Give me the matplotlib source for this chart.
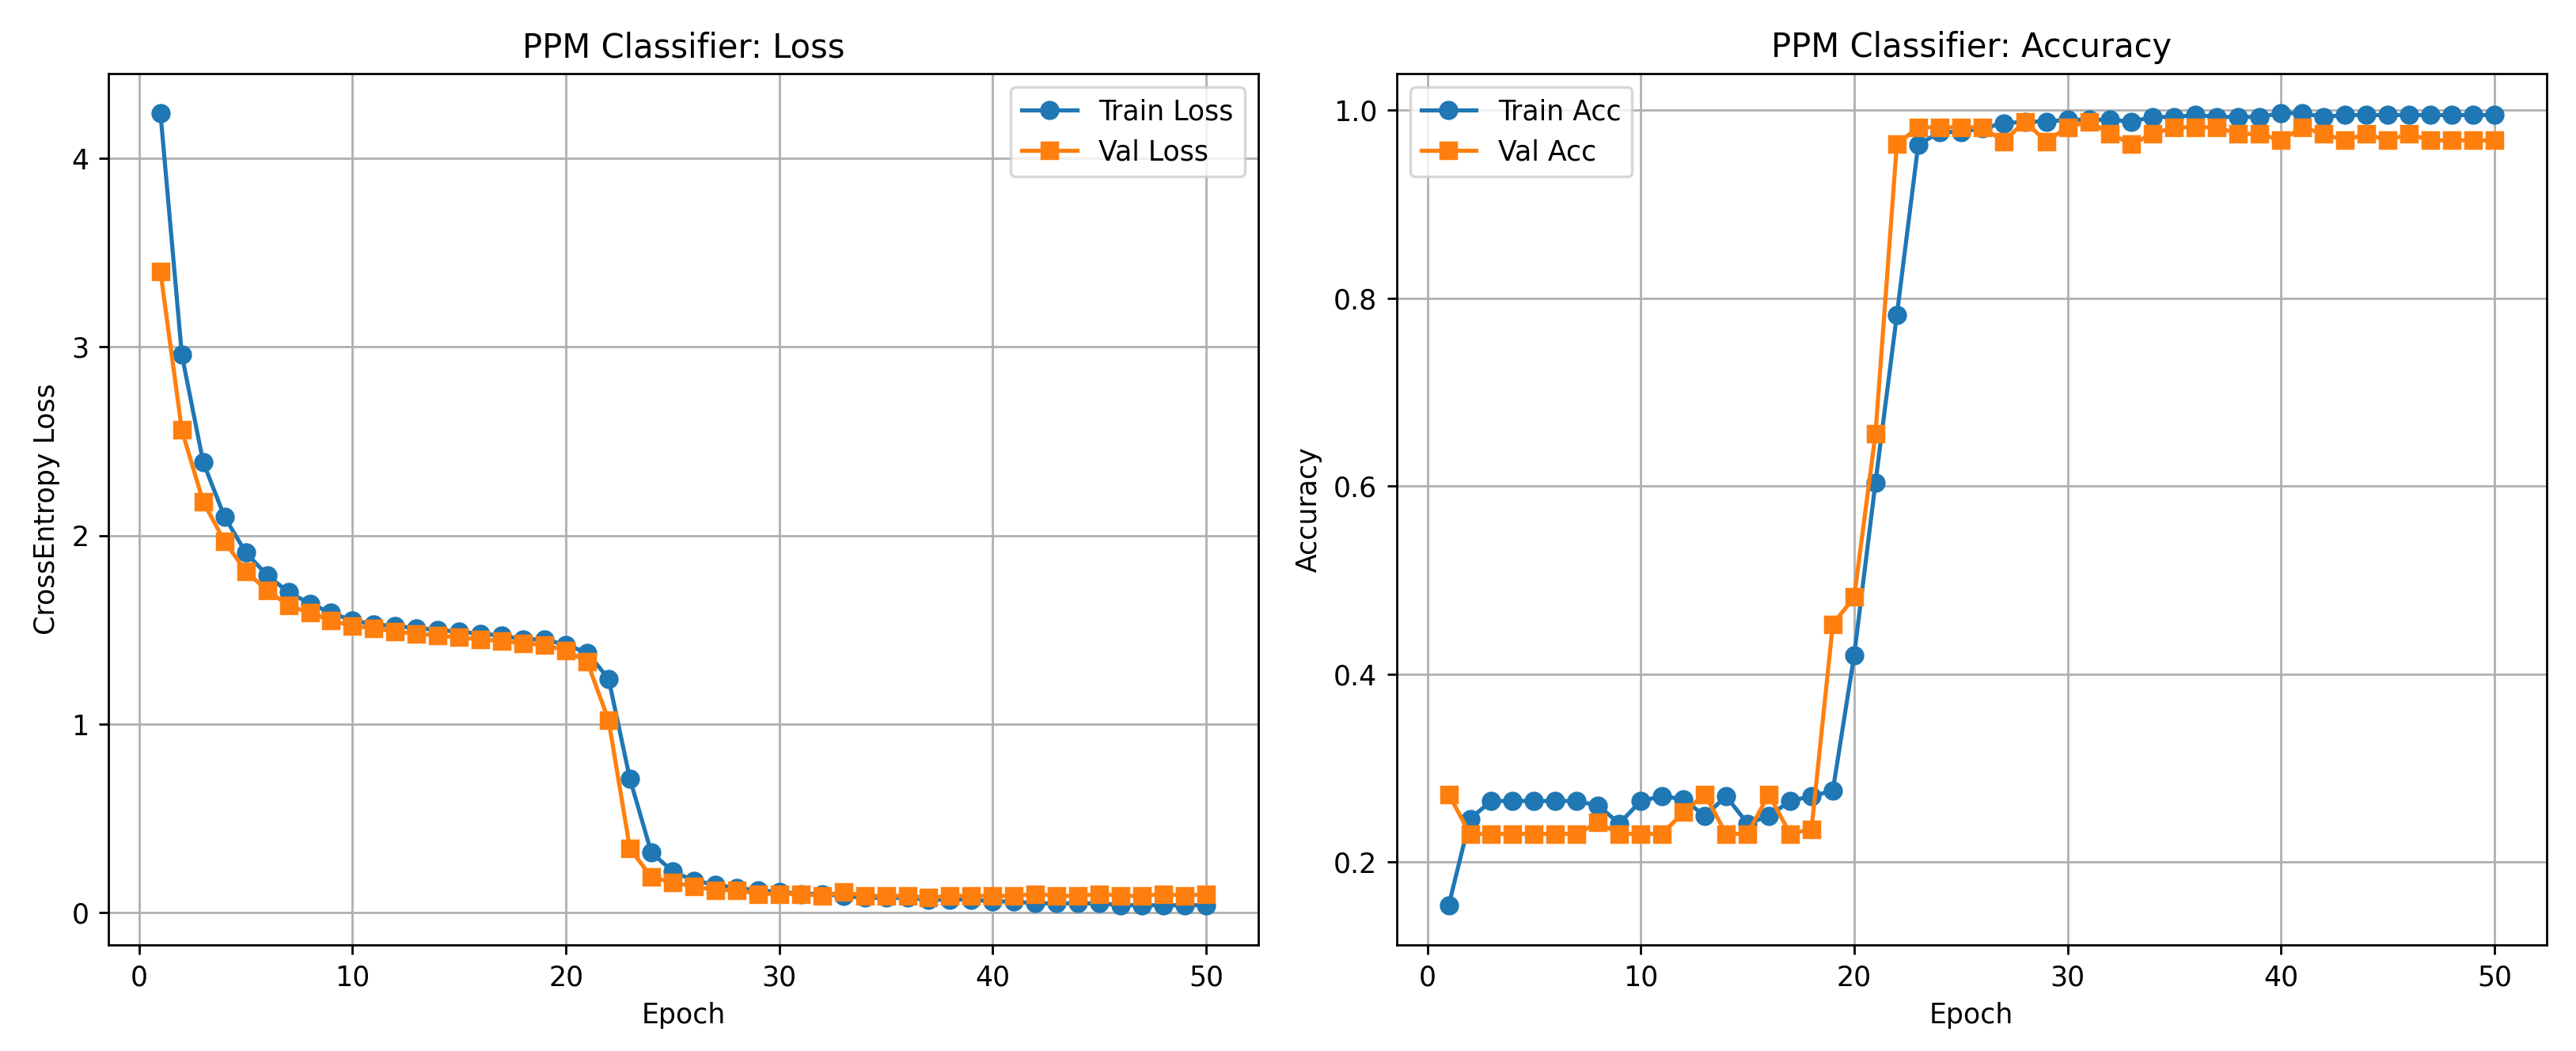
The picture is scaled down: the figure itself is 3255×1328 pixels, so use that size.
import matplotlib
matplotlib.use("Agg")
import matplotlib.pyplot as plt

# 에폭별 학습 기록
epochs = list(range(1, 51))

train_loss = [4.24, 2.96, 2.39, 2.10, 1.91, 1.79, 1.70, 1.64, 1.59, 1.55,
              1.53, 1.52, 1.51, 1.50, 1.49, 1.48, 1.47, 1.45, 1.45, 1.42,
              1.38, 1.24, 0.71, 0.32, 0.22, 0.17, 0.15, 0.13, 0.12, 0.11,
              0.10, 0.10, 0.09, 0.08, 0.08, 0.08, 0.07, 0.07, 0.07, 0.06,
              0.06, 0.05, 0.05, 0.05, 0.05, 0.04, 0.04, 0.04, 0.04, 0.04]

val_loss = [3.40, 2.56, 2.18, 1.97, 1.81, 1.71, 1.63, 1.59, 1.55, 1.52,
            1.51, 1.49, 1.48, 1.47, 1.46, 1.45, 1.44, 1.43, 1.42, 1.39,
            1.33, 1.02, 0.34, 0.19, 0.16, 0.14, 0.12, 0.12, 0.10, 0.10,
            0.10, 0.09, 0.11, 0.09, 0.09, 0.09, 0.08, 0.09, 0.09, 0.09,
            0.09, 0.10, 0.09, 0.09, 0.10, 0.09, 0.09, 0.10, 0.09, 0.10]

train_acc = [0.154, 0.246, 0.265, 0.265, 0.265, 0.265, 0.265, 0.260, 0.241, 0.265,
             0.270, 0.267, 0.249, 0.270, 0.241, 0.249, 0.265, 0.270, 0.276, 0.420,
             0.604, 0.782, 0.963, 0.977, 0.977, 0.981, 0.986, 0.988, 0.988, 0.990,
             0.990, 0.990, 0.988, 0.993, 0.993, 0.995, 0.993, 0.993, 0.993, 0.997,
             0.997, 0.993, 0.995, 0.995, 0.995, 0.995, 0.995, 0.995, 0.995, 0.995]

val_acc = [0.272, 0.230, 0.230, 0.230, 0.230, 0.230, 0.230, 0.242, 0.230, 0.230,
           0.230, 0.253, 0.272, 0.230, 0.230, 0.272, 0.230, 0.235, 0.453, 0.482,
           0.656, 0.964, 0.982, 0.982, 0.982, 0.982, 0.967, 0.988, 0.967, 0.982,
           0.988, 0.975, 0.964, 0.975, 0.982, 0.982, 0.982, 0.975, 0.975, 0.968,
           0.982, 0.975, 0.968, 0.975, 0.968, 0.975, 0.968, 0.968, 0.968, 0.968]

fig, (ax1, ax2) = plt.subplots(1, 2, figsize=(13.02, 5.312), dpi=250)
fig.subplots_adjust(left=0.042, right=0.9886, bottom=0.101, top=0.930, wspace=0.12)

# 손실 그래프
ax1.plot(epochs, train_loss, marker='o', label='Train Loss')
ax1.plot(epochs, val_loss, marker='s', label='Val Loss')
ax1.set_title('PPM Classifier: Loss')
ax1.set_xlabel('Epoch')
ax1.set_ylabel('CrossEntropy Loss')
ax1.legend(loc='upper right')
ax1.grid(True)

# 정확도 그래프
ax2.plot(epochs, train_acc, marker='o', label='Train Acc')
ax2.plot(epochs, val_acc, marker='s', label='Val Acc')
ax2.set_title('PPM Classifier: Accuracy')
ax2.set_xlabel('Epoch')
ax2.set_ylabel('Accuracy')
ax2.legend(loc='upper left')
ax2.grid(True)

fig.savefig('out.png', dpi=250)
